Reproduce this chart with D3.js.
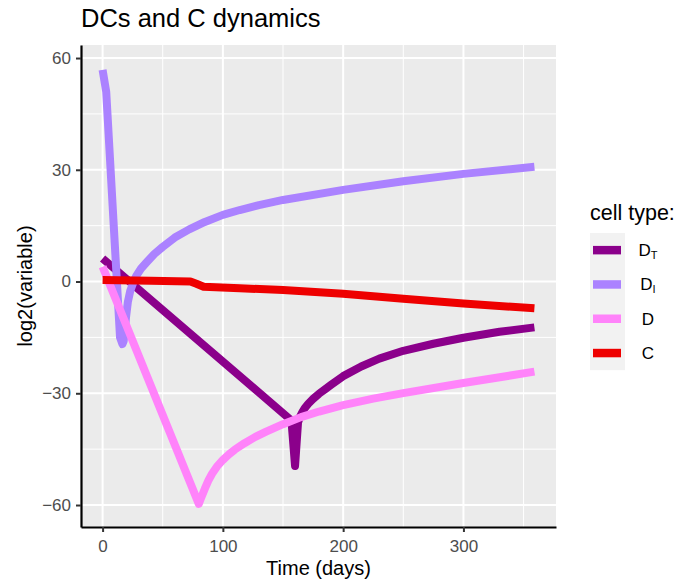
<!DOCTYPE html>
<html>
<head>
<meta charset="utf-8">
<script src="https://cdn.jsdelivr.net/npm/d3@7"></script>
<style>
    body { margin: 0; background: #ffffff; }
    svg { font-family: "Liberation Sans", Arial, sans-serif; }
</style>
</head>
<body>
<div id="chart-div"></div>
<script>
// values (time in days, log2 values)
const dtDays = [0, 157, 160, 162.5, 164, 166, 168, 171, 175, 180, 185, 190, 200, 215, 230, 250, 275, 300, 330, 359];
const dtValues = [6.2, -37.3, -49.5, -37.8, -36.4, -35.1, -34, -32.8, -31.5, -30.1, -28.9, -27.7, -25.4, -22.8, -20.7, -18.6, -16.7, -15.1, -13.5, -12.3];

const diDays = [0, 3, 14.5, 16.5, 17.5, 18.5, 19.5, 21, 23, 25.5, 28, 32, 37, 43, 50, 60, 72, 85, 100, 114, 130, 150, 200, 250, 300, 359];
const diValues = [56.8, 51, -15, -16.8, -16, -13, -9.5, -5.5, -2.5, -0.3, 1.5, 3.5, 5.3, 7.4, 9.3, 11.8, 14, 16, 17.9, 19.2, 20.5, 21.9, 24.6, 26.9, 28.9, 30.8];

const dDays = [0, 80, 82, 85, 88, 91, 95, 100, 105, 110, 118, 127, 136, 150, 165, 180, 200, 225, 250, 300, 359];
const dValues = [4, -59.7, -58, -55.6, -53.4, -51.6, -49.7, -47.9, -46.4, -45.1, -43.4, -41.7, -40.3, -38.3, -36.4, -34.9, -33.2, -31.45, -29.95, -27.25, -24.2];

const cDays = [0, 40, 73, 78, 84, 114, 150, 200, 250, 300, 359];
const cValues = [0.4, 0.2, 0, -0.6, -1.4, -1.8, -2.3, -3.3, -4.6, -5.9, -7.2];

const seriesKeys = ["DT", "DI", "D", "C"];
const seriesColors = {
    "DT": "#8B008B",
    "DI": "#AB82FF",
    "D": "#FF83FA",
    "C": "#EE0000"
};
// legend labels: main letter + subscript
const legendLabels = [["D", "T"], ["D", "I"], ["D", ""], ["C", ""]];

const xTicks = [0, 100, 200, 300];
const xMinorTicks = [50, 150, 250, 350];
const yTicks = [-60, -30, 0, 30, 60];
const yMinorTicks = [-45, -15, 15, 45];

function renderChart() {
    const series = [
        { key: "DT", values: dtDays.map((t, i) => [t, dtValues[i]]) },
        { key: "DI", values: diDays.map((t, i) => [t, diValues[i]]) },
        { key: "D", values: dDays.map((t, i) => [t, dValues[i]]) },
        { key: "C", values: cDays.map((t, i) => [t, cValues[i]]) }
    ];

    var margin = { top: 45, right: 120, bottom: 56, left: 81 },
        width = 676 - margin.left - margin.right,
        height = 583 - margin.top - margin.bottom;

    var root = d3.select("#chart-div").append("svg")
        .attr("width", 676)
        .attr("height", 583);

    var svg = root.append("g")
        .attr("transform", "translate(" + margin.left + "," + margin.top + ")");

    var x = d3.scaleLinear()
        .domain([-17.95, 376.95])
        .range([0, width]);

    var y = d3.scaleLinear()
        .domain([-65.9, 63.5])
        .range([height, 0]);

    // panel background + grid
    svg.append("rect")
        .attr("width", width)
        .attr("height", height)
        .attr("fill", "#EBEBEB");

    svg.append("g").selectAll("line")
        .data(xMinorTicks)
        .enter().append("line")
        .attr("x1", d => x(d)).attr("x2", d => x(d))
        .attr("y1", 0).attr("y2", height)
        .attr("stroke", "#ffffff").attr("stroke-width", 1);
    svg.append("g").selectAll("line")
        .data(yMinorTicks)
        .enter().append("line")
        .attr("x1", 0).attr("x2", width)
        .attr("y1", d => y(d)).attr("y2", d => y(d))
        .attr("stroke", "#ffffff").attr("stroke-width", 1);
    svg.append("g").selectAll("line")
        .data(xTicks)
        .enter().append("line")
        .attr("x1", d => x(d)).attr("x2", d => x(d))
        .attr("y1", 0).attr("y2", height)
        .attr("stroke", "#ffffff").attr("stroke-width", 2);
    svg.append("g").selectAll("line")
        .data(yTicks)
        .enter().append("line")
        .attr("x1", 0).attr("x2", width)
        .attr("y1", d => y(d)).attr("y2", d => y(d))
        .attr("stroke", "#ffffff").attr("stroke-width", 2);

    // lines
    var line = d3.line()
        .x(d => x(d[0]))
        .y(d => y(d[1]));

    svg.append("g")
        .selectAll("path")
        .data(series)
        .enter().append("path")
        .attr("d", d => line(d.values))
        .attr("fill", "none")
        .attr("stroke", d => seriesColors[d.key])
        .attr("stroke-width", 8)
        .attr("stroke-linejoin", "round")
        .attr("stroke-linecap", "butt");

    // axes
    var xAxis = svg.append("g")
        .attr("transform", "translate(0," + height + ")")
        .call(d3.axisBottom(x).tickValues(xTicks).tickSize(5).tickPadding(5).tickSizeOuter(0));
    var yAxis = svg.append("g")
        .call(d3.axisLeft(y).tickValues(yTicks).tickSize(5).tickPadding(5).tickSizeOuter(0)
            .tickFormat(d => d < 0 ? "\u2212" + Math.abs(d) : d));

    [xAxis, yAxis].forEach(ax => {
        ax.select(".domain").attr("stroke", "#000000").attr("stroke-width", 2.2);
        ax.selectAll(".tick line").attr("stroke", "#333333").attr("stroke-width", 2);
        ax.selectAll(".tick text")
            .style("font-size", "17px")
            .attr("fill", "#4D4D4D")
            .style("font-family", "'Liberation Sans', Arial, sans-serif");
    });
    xAxis.selectAll(".tick text").attr("dy", "0.88em");

    // titles
    root.append("text")
        .attr("x", 81)
        .attr("y", 27)
        .style("font-size", "25.5px")
        .attr("fill", "#000000")
        .text("DCs and C dynamics");

    root.append("text")
        .attr("x", margin.left + width / 2)
        .attr("y", 575)
        .style("text-anchor", "middle")
        .style("font-size", "20px")
        .text("Time (days)");

    root.append("text")
        .attr("transform", "translate(32," + (margin.top + height / 2) + ") rotate(-90)")
        .style("text-anchor", "middle")
        .style("font-size", "20px")
        .text("log2(variable)");

    createLegend(root, {
        posX: 590,
        posY: 233,
        keyWidth: 35,
        keyHeight: 34.3
    });
}

function createLegend(root, options) {
    const { posX, posY, keyWidth, keyHeight } = options;

    const legend = root.append("g")
        .attr("class", "legend")
        .attr("transform", `translate(${posX}, ${posY})`);

    legend.append("text")
        .attr("x", 0)
        .attr("y", -13)
        .style("font-size", "21.5px")
        .text("cell type:");

    legend.append("rect")
        .attr("width", keyWidth)
        .attr("height", keyHeight * seriesKeys.length)
        .attr("fill", "#F2F2F2");

    seriesKeys.forEach((key, index) => {
        const item = legend.append("g")
            .attr("transform", `translate(0, ${index * keyHeight + keyHeight / 2})`);

        item.append("line")
            .attr("x1", 3)
            .attr("x2", keyWidth - 4)
            .attr("stroke", seriesColors[key])
            .attr("stroke-width", 8.5);

        const label = item.append("text")
            .attr("x", 58)
            .attr("y", 6)
            .style("text-anchor", "middle")
            .style("font-size", "17px");
        label.append("tspan").text(legendLabels[index][0]);
        if (legendLabels[index][1]) {
            label.append("tspan")
                .attr("dy", 3)
                .style("font-size", "11px")
                .text(legendLabels[index][1]);
        }
    });
}

renderChart();
</script>
</body>
</html>
